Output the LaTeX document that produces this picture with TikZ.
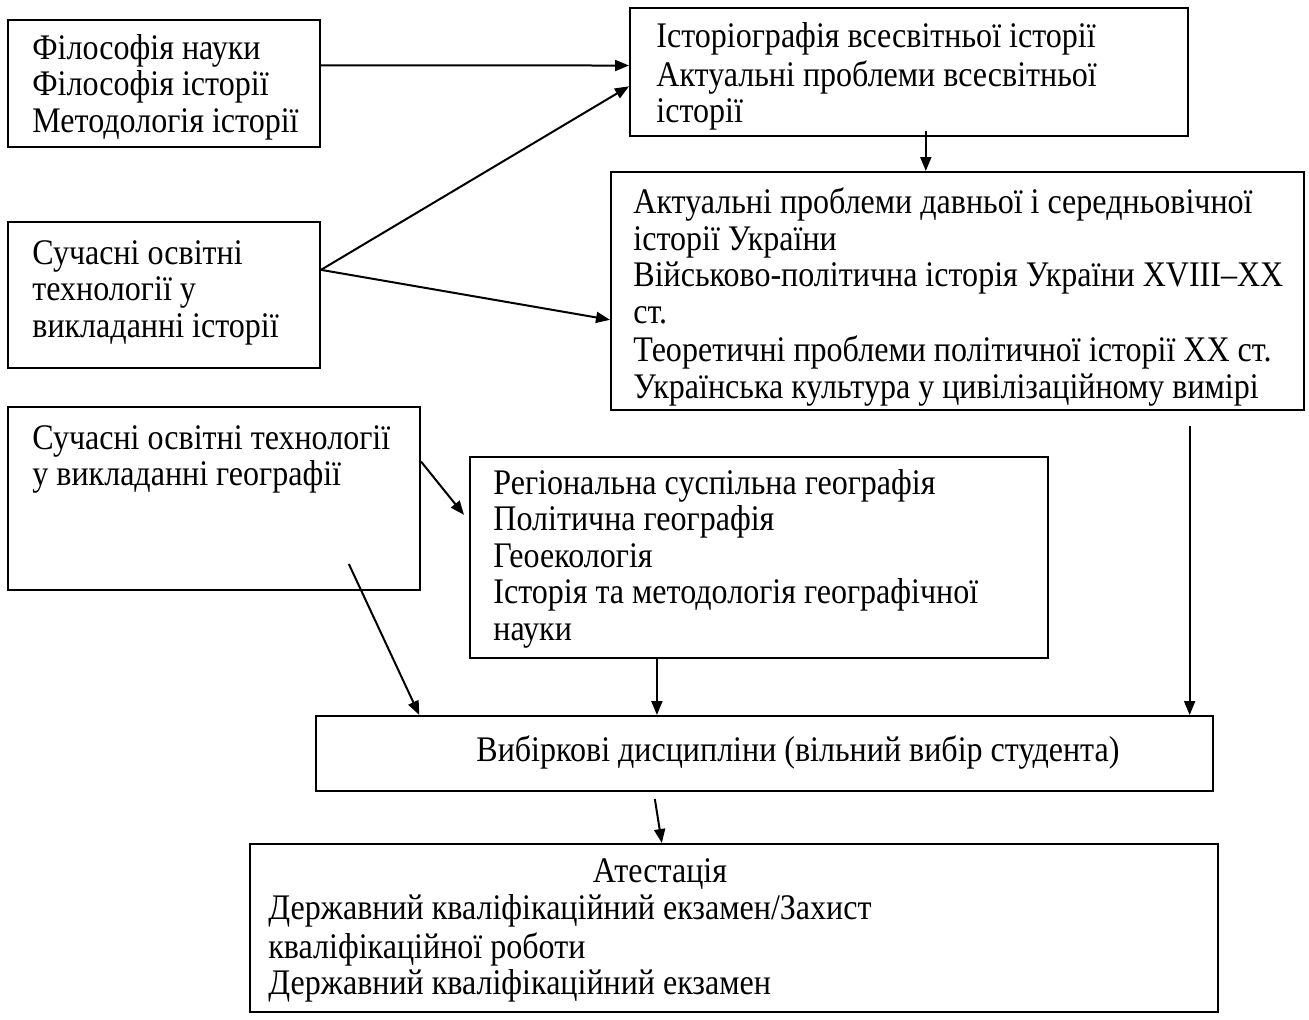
\documentclass[tikz,border=0pt]{standalone}
\usepackage{fontspec}
\setmainfont[FakeStretch=0.89]{Liberation Serif}
\usetikzlibrary{arrows.meta,calc,fit}
\tikzset{
  box/.style={draw, line width=1pt, inner sep=0pt},
  txt/.style={inner sep=0pt, anchor=north west, align=left, font=\fontsize{18}{18.25}\selectfont},
  arr/.style={line width=1pt, -{Triangle[length=7pt,width=5.5pt]}},
}
\begin{document}
\begin{tikzpicture}[x=0.5pt,y=-0.5pt]
\useasboundingbox[fill=white] (0,0) rectangle (1309,1019);
% boxes
\node[box, fit={(8,20) (320,147)}] (A) {};
\node[box, fit={(630,8) (1188,136)}] (B) {};
\node[box, fit={(8,222) (320,368)}] (C) {};
\node[box, fit={(611,172) (1304,410)}] (D) {};
\node[box, fit={(8,407) (420,590)}] (E) {};
\node[box, fit={(470,457) (1048,658)}] (F) {};
\node[box, fit={(316,716) (1213,791)}] (G) {};
\node[box, fit={(250,844) (1218,1012)}] (H) {};
% texts (top = first baseline - 25.55)
\node[txt] (tA) at (32,33.5) {\strut Філософія науки\\\strut Філософія історії\\\strut Методологія історії};
\node[txt] (tB) at (656,21.5) {\strut Історіографія всесвітньої історії\\\strut Актуальні проблеми всесвітньої\\\strut історії};
\node[txt] (tC) at (32,238.5) {\strut Сучасні освітні\\\strut технології у\\\strut викладанні історії};
\node[txt] (tD) at (633,187.5) {\strut Актуальні проблеми давньої і середньовічної\\\strut історії України\\\strut Військово-політична історія України XVIII–XX\\\strut ст.\\\strut Теоретичні проблеми політичної історії XX ст.\\\strut Українська культура у цивілізаційному вимірі};
\node[txt] (tE) at (32,423.5) {\strut Сучасні освітні технології\\\strut у викладанні географії};
\node[txt] (tF) at (493,468.5) {\strut Регіональна суспільна географія\\\strut Політична географія\\\strut Геоекологія\\\strut Історія та методологія географічної\\\strut науки};
\node[txt] (tG) at (476,735.5) {\strut Вибіркові дисципліни (вільний вибір студента)};
\node[txt, anchor=north] (tH1) at (660,856.5) {\strut Атестація};
\node[txt] (tH) at (268,893.5) {\strut Державний кваліфікаційний екзамен/Захист\\\strut кваліфікаційної роботи\\\strut Державний кваліфікаційний екзамен};
% arrows
\draw[arr] ($(A.north east)!0.36!(A.south east)$) -- ($(B.north west)!0.45!(B.south west)$);
\draw[arr] ($(C.north east)!0.33!(C.south east)$) -- ($(B.north west)!0.61!(B.south west)$);
\draw[arr] ($(C.north east)!0.33!(C.south east)$) -- ($(D.north west)!0.62!(D.south west)$);
\coordinate (bd) at ($(B.south west)!0.53!(B.south east)+(0,-6)$);
\draw[arr] (bd) -- (bd |- D.north);
\coordinate (dg) at ($(D.south west)!0.834!(D.south east)+(0,15)$);
\draw[arr] (dg) -- (dg |- G.north);
\draw[arr] ($(E.north east)!0.30!(E.south east)$) -- ($(F.north west)!0.29!(F.south west)+(-5,0)$);
\coordinate (eg) at ($(E.south west)!0.8257!(E.south east)+(0,-27)$);
\draw[arr] (eg) -- ($(G.north west)!0.116!(G.north east)$);
\coordinate (fg) at ($(F.south west)!0.324!(F.south east)$);
\draw[arr] (fg) -- (fg |- G.north);
\coordinate (gh) at ($(G.south west)!0.378!(G.south east)+(0,7)$);
\draw[arr] (gh) -- ($(H.north west)!0.4256!(H.north east)$);
\end{tikzpicture}
\end{document}
